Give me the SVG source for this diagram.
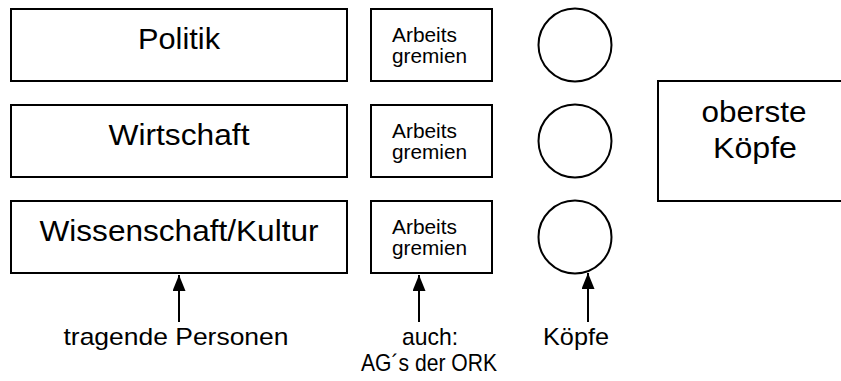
<svg xmlns="http://www.w3.org/2000/svg" width="841" height="381" viewBox="0 0 841 381">
<style>
.box{fill:#fff;stroke:#000;stroke-width:2}
.t{font-family:"Liberation Sans",Arial,sans-serif;fill:#000}
.big{font-size:29px;text-anchor:middle}
.sm{font-size:20.5px}
.lab{font-size:24px;text-anchor:middle}
.con{stroke:#000;stroke-width:2;fill:none}
</style>
<defs>
<marker id="ah" markerWidth="13" markerHeight="16" refX="6.5" refY="0" orient="0" markerUnits="userSpaceOnUse" viewBox="0 0 13 16">
<path d="M0,16 L6.5,0 L13,16 Z" fill="#000"/>
</marker>
</defs>
<rect width="841" height="381" fill="#fff"/>
<g id="politik"><rect class="box" x="11" y="9" width="336" height="72"/><text class="t big" x="179" y="49" textLength="82" lengthAdjust="spacingAndGlyphs">Politik</text></g>
<g id="wirtschaft"><rect class="box" x="11" y="105" width="336" height="72"/><text class="t big" x="179" y="145" textLength="141" lengthAdjust="spacingAndGlyphs">Wirtschaft</text></g>
<g id="wissenschaft"><rect class="box" x="11" y="201" width="336" height="72"/><text class="t big" x="179" y="241" textLength="279" lengthAdjust="spacingAndGlyphs">Wissenschaft/Kultur</text></g>
<g id="ag1"><rect class="box" x="371" y="9" width="121" height="72"/><text class="t sm" x="392" y="42" textLength="65" lengthAdjust="spacingAndGlyphs">Arbeits</text><text class="t sm" x="392" y="63" textLength="75" lengthAdjust="spacingAndGlyphs">gremien</text></g>
<g id="ag2"><rect class="box" x="371" y="105" width="121" height="72"/><text class="t sm" x="392" y="138" textLength="65" lengthAdjust="spacingAndGlyphs">Arbeits</text><text class="t sm" x="392" y="159" textLength="75" lengthAdjust="spacingAndGlyphs">gremien</text></g>
<g id="ag3"><rect class="box" x="371" y="201" width="121" height="72"/><text class="t sm" x="392" y="234" textLength="65" lengthAdjust="spacingAndGlyphs">Arbeits</text><text class="t sm" x="392" y="255" textLength="75" lengthAdjust="spacingAndGlyphs">gremien</text></g>
<g id="kopf1"><circle class="box" cx="575" cy="45" r="36.5"/></g>
<g id="kopf2"><circle class="box" cx="575" cy="141" r="36.5"/></g>
<g id="kopf3"><circle class="box" cx="575" cy="237" r="36.5"/></g>
<g id="oberste"><rect class="box" x="658" y="81" width="194" height="120"/><text class="t big" x="754" y="122" textLength="105" lengthAdjust="spacingAndGlyphs">oberste</text><text class="t big" x="755" y="158" textLength="84" lengthAdjust="spacingAndGlyphs">Köpfe</text></g>
<g id="connectors">
<line class="con" x1="179" y1="322" x2="179" y2="275" marker-end="url(#ah)"/>
<line class="con" x1="419" y1="322" x2="419" y2="275" marker-end="url(#ah)"/>
<line class="con" x1="588" y1="322" x2="588" y2="273" marker-end="url(#ah)"/>
</g>
<g id="labels">
<text class="t lab" x="176" y="345" textLength="225" lengthAdjust="spacingAndGlyphs">tragende Personen</text>
<text class="t lab" x="430" y="345" textLength="56" lengthAdjust="spacingAndGlyphs">auch:</text>
<text class="t lab" x="429" y="371" textLength="136" lengthAdjust="spacingAndGlyphs">AG´s der ORK</text>
<text class="t lab" x="576" y="345" textLength="66" lengthAdjust="spacingAndGlyphs">Köpfe</text>
</g>
</svg>
